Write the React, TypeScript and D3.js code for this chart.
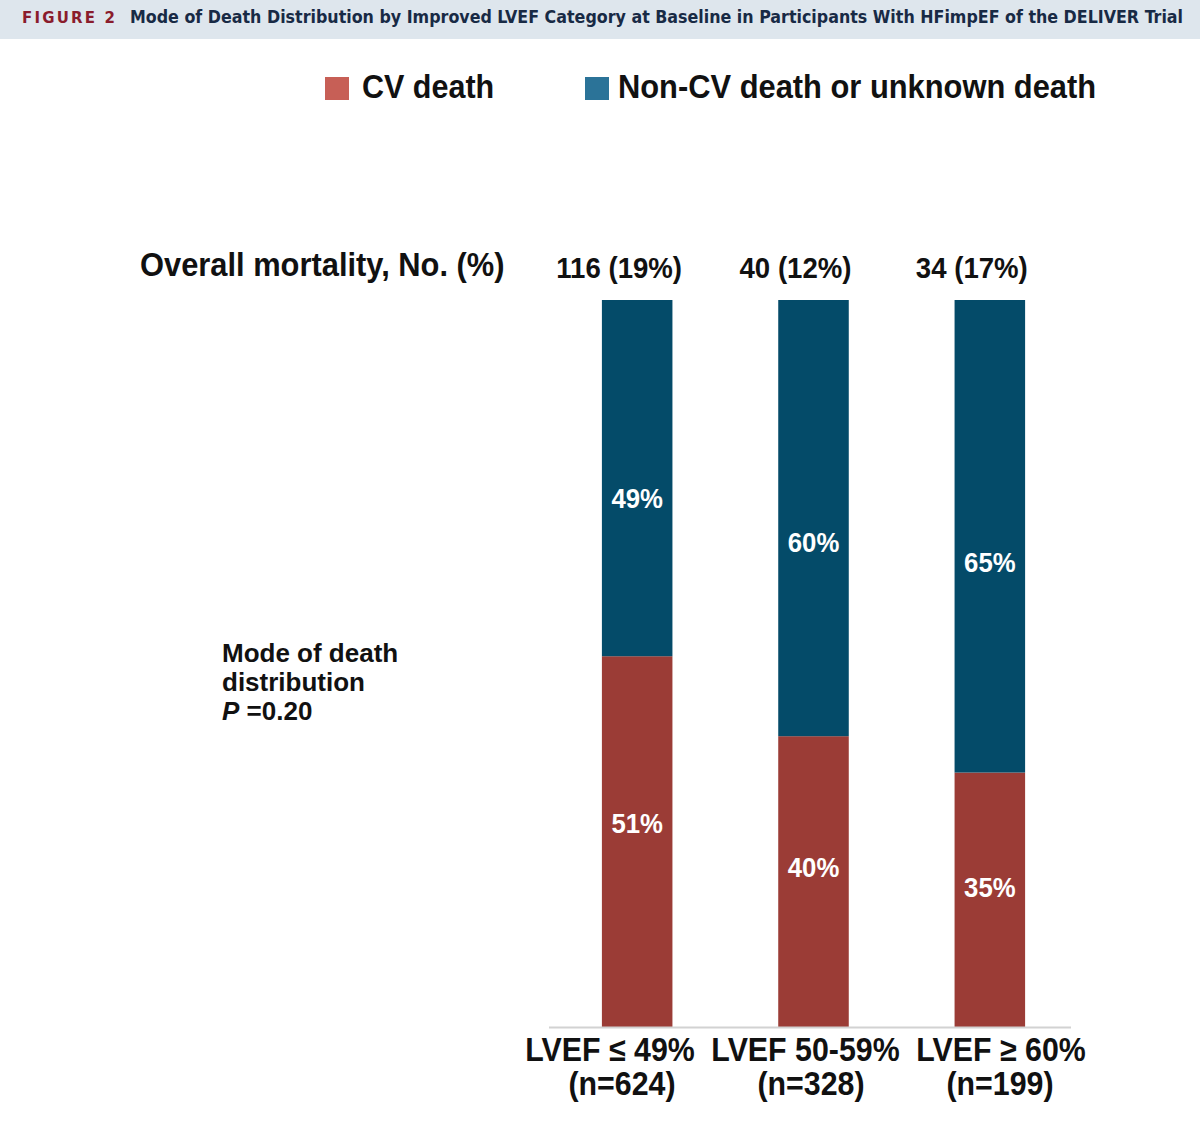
import { useEffect, useRef } from "react"
import * as d3 from "d3"

// LVEF groups at baseline
const categories = ["LVEF ≤ 49%", "LVEF 50-59%", "LVEF ≥ 60%"]
const sampleSizes = ["(n=624)", "(n=328)", "(n=199)"]
const mortalityLabels = ["116 (19%)", "40 (12%)", "34 (17%)"]

// mode of death, % of deaths in each group
const cvDeath = [51, 40, 35]
const nonCvDeath = [49, 60, 65]

const seriesNames = ["CV death", "Non-CV death or unknown death"]

const WIDTH = 1200
const HEIGHT = 1127
const FONT = "'Liberation Sans', Arial, Helvetica, sans-serif"
const SQUEEZE = 0.92

export default function App() {
  const svgRef = useRef<SVGSVGElement>(null)

  useEffect(() => {
    if (!svgRef.current) return
    const root = d3.select(svgRef.current)
    root.selectAll("*").remove()

    root.append("rect").attr("width", WIDTH).attr("height", HEIGHT).attr("fill", "#ffffff")

    // Header band
    root.append("rect").attr("width", WIDTH).attr("height", 39).attr("fill", "#dee6ed")
    root
      .append("text")
      .attr("x", 22)
      .attr("y", 23)
      .attr("fill", "#8a1c2c")
      .attr("textLength", 93)
      .attr("lengthAdjust", "spacing")
      .style("font-family", "'DejaVu Sans', sans-serif")
      .style("font-weight", 700)
      .style("font-size", "15px")
      .text("FIGURE 2")
    root
      .append("text")
      .attr("x", 130)
      .attr("y", 23)
      .attr("fill", "#182a45")
      .attr("textLength", 1053)
      .attr("lengthAdjust", "spacingAndGlyphs")
      .style("font-family", "'DejaVu Sans Condensed', 'DejaVu Sans', sans-serif")
      .style("font-weight", 700)
      .style("font-size", "17px")
      .text("Mode of Death Distribution by Improved LVEF Category at Baseline in Participants With HFimpEF of the DELIVER Trial")

    // squeezed Arial-style label helper
    const label = (
      x: number,
      y: number,
      text: string,
      size: number,
      anchor: string,
      fill = "#111111",
      squeeze = SQUEEZE,
    ) =>
      root
        .append("text")
        .attr("transform", `translate(${x},${y}) scale(${squeeze},1)`)
        .attr("text-anchor", anchor)
        .attr("fill", fill)
        .style("font-family", FONT)
        .style("font-weight", 700)
        .style("font-size", `${size}px`)
        .text(text)

    // Scales
    const x = d3.scaleBand().domain(categories).range([549, 1078]).paddingInner(0.6).paddingOuter(0.3)
    const y = d3.scaleLinear().domain([0, 100]).range([1027, 300])
    const labelX = d3.scalePoint().domain(categories).range([610, 1001])
    const sizeX = d3.scalePoint().domain(categories).range([622, 1000])

    const color = d3.scaleOrdinal<string>().domain(seriesNames).range(["#9b3c36", "#044b69"])
    const legendColor = d3.scaleOrdinal<string>().domain(seriesNames).range(["#c75f56", "#2b7398"])

    // Legend
    const legendX = [325, 585]
    const legendTextX = [362, 618]
    seriesNames.forEach((name, i) => {
      root
        .append("rect")
        .attr("x", legendX[i])
        .attr("y", 77)
        .attr("width", 24)
        .attr("height", 23)
        .attr("fill", legendColor(name))
      label(legendTextX[i], 98, name, 33, "start", "#111111", i === 0 ? 0.925 : 0.935)
    })

    // Stacked bars
    const rows = categories.map((c, i) => ({ category: c, cv: cvDeath[i], nonCv: nonCvDeath[i] }))
    const stacked = d3.stack<any>().keys(["cv", "nonCv"])(rows)
    // where the percentage sits inside each segment, measured from its top
    const labelFraction = [0.45, 0.555]

    stacked.forEach((layer, li) => {
      const name = seriesNames[li]
      root
        .append("g")
        .selectAll("rect")
        .data(layer)
        .enter()
        .append("rect")
        .attr("x", (d: any) => x(d.data.category) || 0)
        .attr("y", (d: any) => y(d[1]))
        .attr("width", x.bandwidth())
        .attr("height", (d: any) => y(d[0]) - y(d[1]))
        .attr("fill", color(name))

      layer.forEach((d: any) => {
        const cx = (x(d.data.category) || 0) + x.bandwidth() / 2
        const top = y(d[1])
        const cy = top + (y(d[0]) - top) * labelFraction[li]
        label(cx, cy + 10, `${d[1] - d[0]}%`, 28, "middle", "#ffffff")
      })
    })

    // Baseline
    root
      .append("line")
      .attr("x1", x.range()[0])
      .attr("x2", x.range()[1] - 7)
      .attr("y1", y(0) + 0.5)
      .attr("y2", y(0) + 0.5)
      .attr("stroke", "#d2d2d2")
      .attr("stroke-width", 2)

    // Overall mortality row
    label(140, 276, "Overall mortality, No. (%)", 33, "start", "#111111", 0.935)
    categories.forEach((c, i) => {
      label((x(c) || 0) + x.bandwidth() / 2 - 18, 278, mortalityLabels[i], 30, "middle")
    })

    // Category labels
    categories.forEach((c, i) => {
      label(labelX(c) || 0, 1061, c, 33, "middle")
      label(sizeX(c) || 0, 1095, sampleSizes[i], 33, "middle")
    })

    // Mode of death note
    const note = root
      .append("text")
      .attr("fill", "#111111")
      .style("font-family", FONT)
      .style("font-weight", 700)
      .style("font-size", "26px")
    note.append("tspan").attr("x", 222).attr("y", 662).text("Mode of death")
    note.append("tspan").attr("x", 222).attr("y", 691).text("distribution")
    const pLine = note.append("tspan").attr("x", 222).attr("y", 720)
    pLine.append("tspan").style("font-style", "italic").text("P")
    pLine.append("tspan").text(" =0.20")
  }, [])

  return (
    <svg
      ref={svgRef}
      width={WIDTH}
      height={HEIGHT}
      style={{ position: "absolute", top: 0, left: 0, display: "block" }}
    />
  )
}
